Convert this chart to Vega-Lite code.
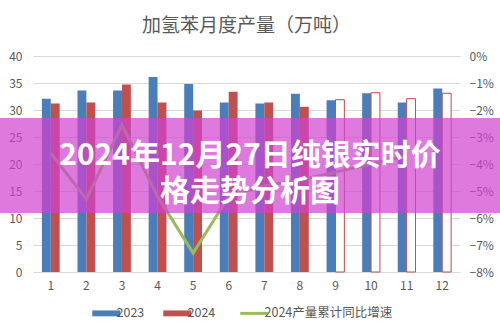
{
  "$schema": "https://vega.github.io/schema/vega-lite/v6.json",
  "width": 427,
  "height": 216,
  "autosize": "none",
  "padding": {"left": 33, "top": 56, "right": 40, "bottom": 61},
  "background": "white",
  "config": {
    "font": "Noto Sans CJK SC",
    "view": {"stroke": null},
    "axis": {"labelColor": "#595959", "labelFontSize": 12, "ticks": false, "domain": false, "title": null, "labelFont": "Noto Sans CJK SC"},
    "legend": {"layout": {"bottom": {"anchor": "middle"}}}
  },
  "title": {"text": "加氢苯月度产量（万吨）", "anchor": "middle", "frame": "group", "fontSize": 19, "fontWeight": "normal", "color": "#595959", "offset": 14},
  "datasets": {
    "bars": [
      {"month": "1", "series": "2023", "value": 32.1, "type": "实际"},
      {"month": "2", "series": "2023", "value": 33.6, "type": "实际"},
      {"month": "3", "series": "2023", "value": 33.6, "type": "实际"},
      {"month": "4", "series": "2023", "value": 36.1, "type": "实际"},
      {"month": "5", "series": "2023", "value": 34.8, "type": "实际"},
      {"month": "6", "series": "2023", "value": 31.4, "type": "实际"},
      {"month": "7", "series": "2023", "value": 31.2, "type": "实际"},
      {"month": "8", "series": "2023", "value": 33.0, "type": "实际"},
      {"month": "9", "series": "2023", "value": 31.8, "type": "实际"},
      {"month": "10", "series": "2023", "value": 33.1, "type": "实际"},
      {"month": "11", "series": "2023", "value": 31.4, "type": "实际"},
      {"month": "12", "series": "2023", "value": 34.0, "type": "实际"},
      {"month": "1", "series": "2024", "value": 31.2, "type": "实际"},
      {"month": "2", "series": "2024", "value": 31.4, "type": "实际"},
      {"month": "3", "series": "2024", "value": 34.7, "type": "实际"},
      {"month": "4", "series": "2024", "value": 31.4, "type": "实际"},
      {"month": "5", "series": "2024", "value": 29.9, "type": "实际"},
      {"month": "6", "series": "2024", "value": 33.4, "type": "实际"},
      {"month": "7", "series": "2024", "value": 31.4, "type": "实际"},
      {"month": "8", "series": "2024", "value": 30.6, "type": "实际"},
      {"month": "9", "series": "2024", "value": 31.9, "type": "预测"},
      {"month": "10", "series": "2024", "value": 33.2, "type": "预测"},
      {"month": "11", "series": "2024", "value": 32.1, "type": "预测"},
      {"month": "12", "series": "2024", "value": 33.1, "type": "预测"}
    ],
    "growth": [
      {"month": "1", "series": "2024产量累计同比增速", "rate": -0.036},
      {"month": "2", "series": "2024产量累计同比增速", "rate": -0.053},
      {"month": "3", "series": "2024产量累计同比增速", "rate": -0.0255},
      {"month": "4", "series": "2024产量累计同比增速", "rate": -0.052},
      {"month": "5", "series": "2024产量累计同比增速", "rate": -0.073},
      {"month": "6", "series": "2024产量累计同比增速", "rate": -0.052},
      {"month": "7", "series": "2024产量累计同比增速", "rate": -0.048},
      {"month": "8", "series": "2024产量累计同比增速", "rate": -0.046},
      {"month": "9", "series": "2024产量累计同比增速", "rate": -0.043},
      {"month": "10", "series": "2024产量累计同比增速", "rate": -0.040},
      {"month": "11", "series": "2024产量累计同比增速", "rate": -0.037}
    ],
    "banner": [
      {"headline": "2024年12月27日纯银实时价\n格走势分析图"}
    ]
  },
  "layer": [
    {
      "encoding": {
        "x": {"field": "month", "type": "ordinal", "sort": ["1","2","3","4","5","6","7","8","9","10","11","12"],
              "scale": {"paddingInner": 0.5, "paddingOuter": 0.25},
              "axis": {"labelAngle": 0, "labelPadding": 8, "grid": false}}
      },
      "layer": [
        {
          "data": {"name": "bars"},
          "mark": {"type": "bar"},
          "encoding": {
            "xOffset": {"field": "series", "type": "nominal", "scale": {"paddingInner": 0}},
            "y": {"field": "value", "type": "quantitative", "scale": {"domain": [0, 40], "nice": false},
                  "axis": {"values": [0,5,10,15,20,25,30,35,40], "grid": true, "gridColor": "#d9d9d9", "labelPadding": 11, "orient": "left"}},
            "color": {"field": "series", "type": "nominal",
                      "scale": {"domain": ["2023", "2024", "2024产量累计同比增速"], "range": ["#4a7ebb", "#c0504d", "#9bbb59"]},
                      "legend": {"orient": "bottom", "direction": "horizontal", "title": null, "offset": 16,
                                 "labelFontSize": 12.5, "labelColor": "#595959", "labelLimit": 300, "labelOffset": 4,
                                 "columnPadding": 18, "symbolSize": 784,
                                 "encode": {"symbols": {"update": {
                                   "shape": {"signal": "datum.value === '2024产量累计同比增速' ? 'M-1,0H1' : 'M-1,-0.21H1V0.21H-1Z'"},
                                   "fill": {"signal": "datum.value === '2024产量累计同比增速' ? 'transparent' : scale('color', datum.value)"},
                                   "stroke": {"signal": "scale('color', datum.value)"},
                                   "strokeWidth": {"signal": "datum.value === '2024产量累计同比增速' ? 3 : 0"},
                                   "opacity": {"value": 1}
                                 }}}}}
          }
        },
        {
          "data": {"name": "bars"},
          "transform": [{"filter": "datum.type === '预测'"}],
          "mark": {"type": "bar", "fill": "#ffffff", "stroke": "#c0504d", "strokeWidth": 1},
          "encoding": {
            "xOffset": {"field": "series", "type": "nominal", "scale": {"paddingInner": 0}},
            "y": {"field": "value", "type": "quantitative", "scale": {"domain": [0, 40], "nice": false}, "axis": null}
          }
        },
        {
          "data": {"name": "growth"},
          "mark": {"type": "line", "strokeWidth": 3},
          "encoding": {
            "y": {"field": "rate", "type": "quantitative", "scale": {"domain": [-0.08, 0], "nice": false, "zero": false},
                  "axis": {"orient": "right", "format": ".0%", "values": [0,-0.01,-0.02,-0.03,-0.04,-0.05,-0.06,-0.07,-0.08], "grid": false, "labelPadding": 9}},
            "color": {"field": "series", "type": "nominal"}
          }
        }
      ],
      "resolve": {"scale": {"y": "independent"}}
    },
    {
      "data": {"name": "banner"},
      "layer": [
        {
          "mark": {"type": "rect", "fill": "#d041d0", "opacity": 0.7},
          "encoding": {
            "x": {"datum": 0, "type": "quantitative", "scale": {"domain": [0.066, 0.92], "nice": false, "zero": false}, "axis": null},
            "x2": {"datum": 1},
            "y": {"datum": 0.646, "type": "quantitative", "scale": {"domain": [0.183, 0.832], "nice": false, "zero": false}, "axis": null},
            "y2": {"datum": 0.36}
          }
        },
        {
          "mark": {"type": "text", "color": "#ffffff", "fontSize": 30, "fontWeight": "bold", "font": "Noto Sans CJK SC", "lineBreak": "\n", "lineHeight": 36, "align": "center", "baseline": "middle"},
          "encoding": {
            "x": {"datum": 0.5, "type": "quantitative", "scale": {"domain": [0.066, 0.92], "nice": false, "zero": false}, "axis": null},
            "y": {"datum": 0.533, "type": "quantitative", "scale": {"domain": [0.183, 0.832], "nice": false, "zero": false}, "axis": null},
            "text": {"field": "headline"}
          }
        }
      ]
    }
  ],
  "resolve": {"scale": {"x": "independent", "y": "independent"}}
}
